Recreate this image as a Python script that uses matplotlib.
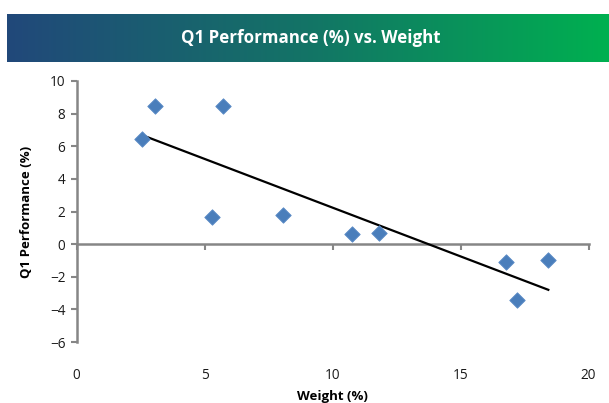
import numpy as np
import matplotlib
matplotlib.use("Agg")
import matplotlib.pyplot as plt
from matplotlib.colors import LinearSegmentedColormap

# Data
weight = [2.55, 3.07, 5.73, 5.28, 8.05, 10.77, 11.80, 16.79, 17.22, 18.43]
performance = [6.42, 8.47, 8.45, 1.64, 1.78, 0.63, 0.67, -1.10, -3.44, -0.96]
x_ticks = [0, 5, 10, 15, 20]
y_ticks = [-6, -4, -2, 0, 2, 4, 6, 8, 10]
title = "Q1 Performance (%) vs. Weight"
xlabel = "Weight (%)"
ylabel = "Q1 Performance (%)"

plt.rcParams['font.family'] = ['Open Sans', 'DejaVu Sans']
GRAY = '#868686'

fig = plt.figure(figsize=(6.09, 4.03), dpi=100)

# Title banner with gradient
bax = fig.add_axes([7/609, 1 - 62/403, 602/609, 48/403])
cmap = LinearSegmentedColormap.from_list('banner', ['#21487a', '#137466', '#00b050'])
bax.imshow(np.linspace(0, 1, 256).reshape(1, -1), aspect='auto', cmap=cmap,
           extent=[0, 1, 0, 1])
bax.set_axis_off()
bax.text(0.505, 0.5, title, color='white', fontsize=12.2, fontweight='bold',
         ha='center', va='center', transform=bax.transAxes)

# Main axes
ax = fig.add_axes([76.5/609, 1 - 342/403, 512/609, 261/403])
ax.scatter(weight, performance, marker='D', s=62, color='#4a7ebb',
           edgecolor='#5b8bc6', linewidth=0.6, zorder=3)

coef = np.polyfit(weight, performance, 1)
xs = np.array([min(weight), max(weight)])
ax.plot(xs, np.polyval(coef, xs), color='black', lw=1.6, zorder=2)

ax.set_xlim(0, 20)
ax.set_ylim(-6, 10)
ax.set_xticks(x_ticks)
ax.set_yticks(y_ticks)

for s in ['top', 'right', 'bottom']:
    ax.spines[s].set_visible(False)
ax.spines['left'].set_color(GRAY)
ax.spines['left'].set_linewidth(1.8)
ax.tick_params(axis='y', direction='out', length=4, width=1.5, color=GRAY,
               labelsize=9.8, labelcolor='#1a1a1a', pad=4)
ax.tick_params(axis='x', length=0, labelsize=9.8, labelcolor='#1a1a1a', pad=19)

# x axis line at y=0 with tick marks
loc = (0 - (-6)) / 16
sec = ax.secondary_xaxis(loc)
sec.set_xticks(x_ticks)
sec.tick_params(axis='x', direction='out', length=4, width=1.5, color=GRAY,
                labelbottom=False)
sec.spines['bottom'].set_color(GRAY)
sec.spines['bottom'].set_linewidth(1.8)

ax.set_xlabel(xlabel, fontsize=9.5, fontweight='bold', labelpad=5)
ax.set_ylabel(ylabel, fontsize=9.5, fontweight='bold', labelpad=12)

fig.savefig('out.png', dpi=100)
